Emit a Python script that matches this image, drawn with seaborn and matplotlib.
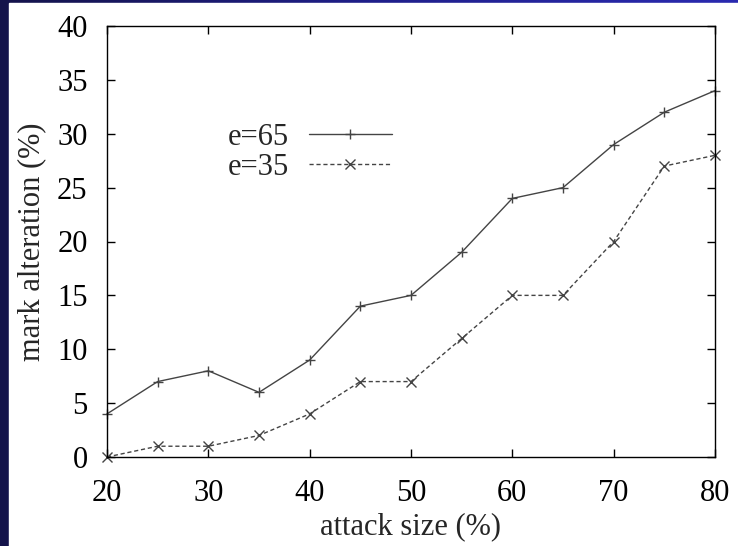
import numpy as np
import pandas as pd
import matplotlib
matplotlib.use("Agg")
import matplotlib.pyplot as plt
import seaborn as sns
from matplotlib.colors import LinearSegmentedColormap
from matplotlib.ticker import MultipleLocator
from matplotlib.lines import Line2D

attack_size = [20, 25, 30, 35, 40, 45, 50, 55, 60, 65, 70, 75, 80]
e65 = [4, 7, 8, 6, 9, 14, 15, 19, 24, 25, 29, 32, 34]
e35 = [0, 1, 1, 2, 4, 7, 7, 11, 15, 15, 20, 27, 28]
series_labels = ["e=65", "e=35"]

df = pd.concat([
    pd.DataFrame({"attack": attack_size, "alt": e65, "series": series_labels[0]}),
    pd.DataFrame({"attack": attack_size, "alt": e35, "series": series_labels[1]}),
])

sns.set_theme(style="white")
plt.rcParams["font.family"] = ["Liberation Serif", "DejaVu Serif"]

FS = 22
LC = "#444444"
W, H = 738, 546
L, R, T, B = 107, 715, 26, 457

fig = plt.figure(figsize=(W / 100, H / 100), dpi=100)

# blue gradient frame
bg = fig.add_axes([0, 0, 1, 1], zorder=-10)
cmap = LinearSegmentedColormap.from_list("bl", ["#14134a", "#1f1f8a", "#2a2ab0"])
grad = np.linspace(0, 1, 256).reshape(1, -1)
bg.imshow(grad, aspect="auto", cmap=cmap, extent=[0, 1, 0, 1])
bg.add_patch(plt.Rectangle((9 / W, 0), 1, 1 - 3 / H, color="white",
                           transform=bg.transAxes))
bg.set_xlim(0, 1)
bg.set_ylim(0, 1)
bg.axis("off")

ax = fig.add_axes([L / W, 1 - B / H, (R - L) / W, (B - T) / H])
ax.set_facecolor("white")

markers = {"e=65": "+", "e=35": "x"}
dashes = {"e=65": "", "e=35": (3, 2)}
sns.lineplot(data=df, x="attack", y="alt", hue="series", style="series",
             markers=markers, dashes=dashes,
             palette={"e=65": LC, "e=35": LC},
             linewidth=1.0, markersize=7, markeredgewidth=1.0,
             markeredgecolor=LC, ax=ax, legend=False, clip_on=False)

ax.set_xlim(20, 80)
ax.set_ylim(0, 40)
ax.xaxis.set_major_locator(MultipleLocator(10))
ax.yaxis.set_major_locator(MultipleLocator(5))
ax.tick_params(axis="both", direction="in", length=6, width=1, top=True, right=True,
               labelsize=FS, colors="black", bottom=True, left=True)
ax.tick_params(axis="x", pad=16)
ax.tick_params(axis="y", pad=14)
for s in ax.spines.values():
    s.set_visible(True)
    s.set_color("black")
    s.set_linewidth(1.0)

ax.set_xlabel("attack size (%)", fontsize=FS)
ax.set_ylabel("mark alteration (%)", fontsize=FS)
ax.xaxis.set_label_coords(0.5, -(512 - B) / (B - T))
ax.yaxis.set_label_coords(-(L - 46) / (R - L), 0.5)

handles = [
    Line2D([], [], color=LC, lw=1.0, marker="+", markersize=7, mew=1.0),
    Line2D([], [], color=LC, lw=1.0, ls=(0, (3, 2)), marker="x", markersize=7, mew=1.0),
]
ax.legend(handles, series_labels, loc="upper left",
          bbox_to_anchor=((228 - L) / (R - L), (B - 123) / (B - T)),
          frameon=False, markerfirst=False,
          fontsize=FS, handlelength=2.7, handletextpad=0.65,
          labelspacing=0.03, borderaxespad=0, borderpad=0, numpoints=1)

fig.savefig("out.png", dpi=100)
